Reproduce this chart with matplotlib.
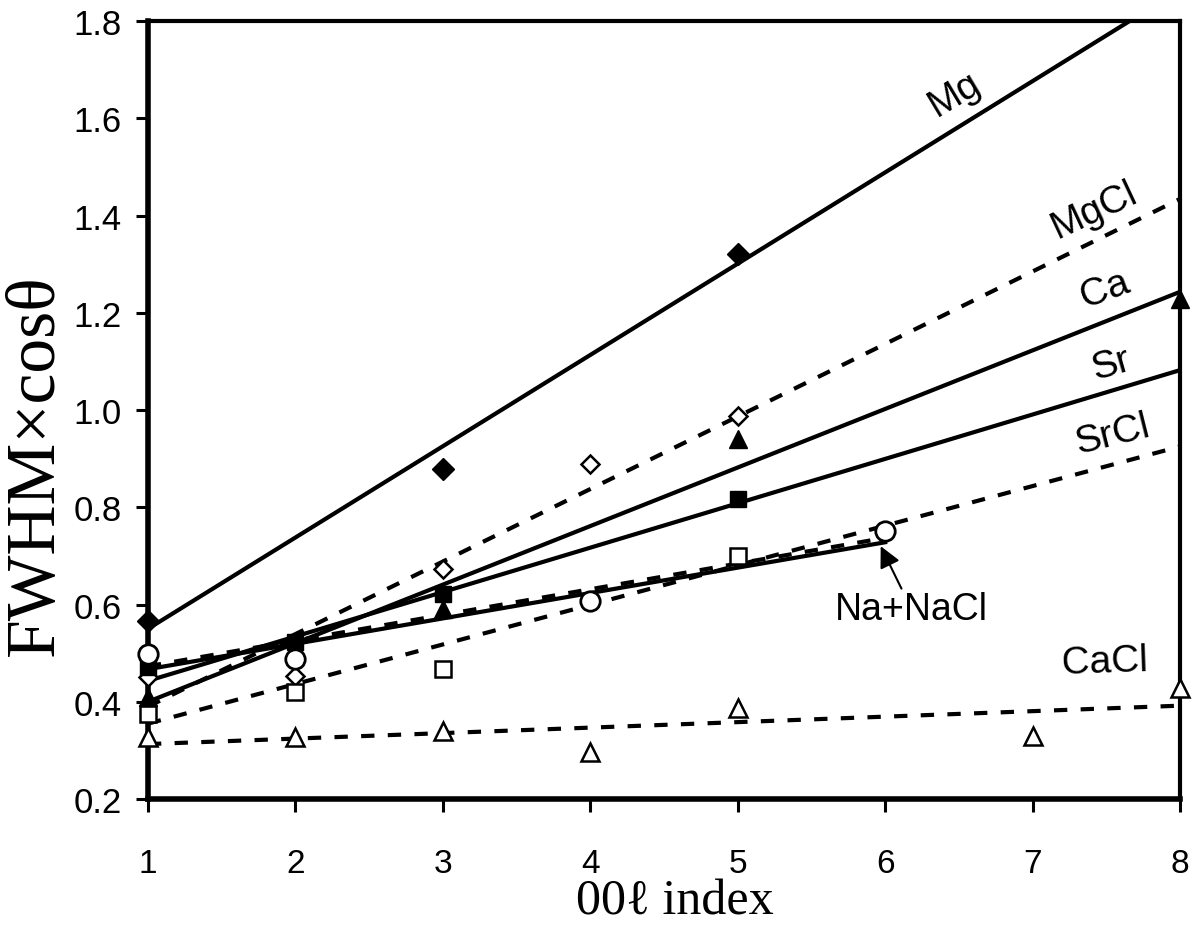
import matplotlib
matplotlib.use('Agg')
import matplotlib.pyplot as plt

# measured points (00l index, FWHM x cos theta)
x_mg = [1, 3, 5]
y_mg = [0.566, 0.879, 1.32]
x_mgcl = [1, 2, 3, 4, 5]
y_mgcl = [0.451, 0.453, 0.673, 0.889, 0.988]
x_ca = [1, 3, 5, 8]
y_ca = [0.41, 0.591, 0.94, 1.228]
x_sr = [1, 2, 3, 5]
y_sr = [0.472, 0.523, 0.622, 0.817]
x_srcl = [1, 2, 3, 5]
y_srcl = [0.375, 0.420, 0.467, 0.700]
x_na = [1, 2, 4, 6]
y_na = [0.498, 0.488, 0.607, 0.752]
x_cacl = [1, 2, 3, 4, 5, 7, 8]
y_cacl = [0.328, 0.328, 0.340, 0.297, 0.387, 0.330, 0.428]

# fitted lines: (x0, x1), (y0, y1)
fit_mg = ([1, 8], [0.55, 1.864])
fit_mgcl = ([1, 8], [0.39, 1.434])
fit_ca = ([1, 8], [0.40, 1.243])
fit_sr = ([1, 8], [0.443, 1.082])
fit_srcl = ([1, 8], [0.355, 0.925])
fit_na = ([1, 6], [0.467, 0.728])
fit_nacl = ([1, 6], [0.473, 0.737])
fit_cacl = ([1, 8], [0.313, 0.392])

xticks = [1, 2, 3, 4, 5, 6, 7, 8]
yticks = [0.2, 0.4, 0.6, 0.8, 1.0, 1.2, 1.4, 1.6, 1.8]

fig = plt.figure(figsize=(11.96, 9.28), dpi=100)
ax = fig.add_axes([0.1237, 0.1379, 0.8629, 0.8384])

dash = (0, (3.2, 3.2))
for (fx, fy), ls in [(fit_mg, '-'), (fit_mgcl, dash), (fit_ca, '-'), (fit_sr, '-'),
                     (fit_srcl, dash), (fit_nacl, dash), (fit_na, '-'), (fit_cacl, dash)]:
    ax.plot(fx, fy, color='black', lw=3, linestyle=ls, zorder=2)

mk = dict(linestyle='none', color='black', clip_on=False, zorder=4)
ax.plot(x_mg, y_mg, marker='D', ms=11, **mk)
ax.plot(x_mgcl, y_mgcl, marker='D', ms=9, mfc='white', mew=1.8, **mk)
ax.plot(x_sr, y_sr, marker='s', ms=12, **mk)
ax.plot(x_srcl, y_srcl, marker='s', ms=12, mfc='white', mew=1.8, **mk)
ax.plot(x_na, y_na, marker='o', ms=14, mfc='white', mew=2, **mk)
ax.plot(x_ca, y_ca, marker='^', ms=13, **mk)
ax.plot(x_cacl, y_cacl, marker='^', ms=13, mfc='white', mew=1.8, **mk)

lab = dict(fontsize=28, family='Liberation Sans', ha='center', va='center')
ax.text(6.47, 1.65, 'Mg', rotation=31, **lab)
ax.text(7.42, 1.413, 'MgCl', rotation=25, **lab)
ax.text(7.49, 1.249, 'Ca', rotation=20, **lab)
ax.text(7.53, 1.095, 'Sr', rotation=16, **lab)
ax.text(7.54, 0.951, 'SrCl', rotation=14, **lab)
ax.text(7.49, 0.482, 'CaCl', rotation=2, **lab)
lab['fontsize'] = 27
ax.annotate('Na+NaCl', xy=(5.97, 0.72), xytext=(6.18, 0.59),
            arrowprops=dict(arrowstyle='-|>', color='black', lw=1.5,
                            mutation_scale=32, shrinkA=0, shrinkB=0),
            **lab)

ax.set_xlim(1, 8)
ax.set_ylim(0.2, 1.8)
ax.set_xticks(xticks)
ax.set_yticks(yticks)
ax.set_xticklabels([str(v) for v in xticks], family='Liberation Sans', fontsize=24)
ax.set_yticklabels(['%.1f' % v for v in yticks], family='Liberation Sans', fontsize=25)
ax.tick_params(direction='out', length=9, width=2.2)
ax.tick_params(axis='x', pad=26)
ax.tick_params(axis='y', pad=10)

for side in ['left', 'bottom']:
    ax.spines[side].set_linewidth(4)
for side in ['top', 'right']:
    ax.spines[side].set_linewidth(3)

serif = ['Liberation Serif', 'DejaVu Serif']
fig.text(675 / 1196, 1 - 915 / 928, '00\u2113 index', family=serif, fontsize=36,
         ha='center', va='baseline')
fig.text(36 / 1196, 1 - 465 / 928, 'FWHM\u00d7cos\u03b8', family=serif, fontsize=50,
         ha='center', va='center', rotation=90)

fig.savefig('out.png', dpi=100)
